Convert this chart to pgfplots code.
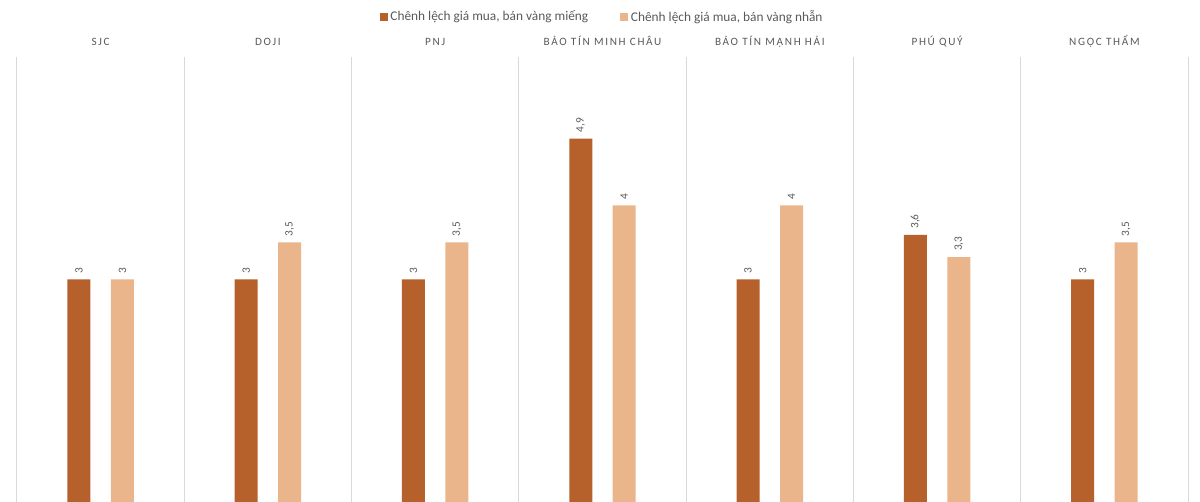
\documentclass[border=0pt]{standalone}
\usepackage{pgfplots}
\pgfplotsset{compat=1.18}
\usepackage{fontspec}
\setmainfont{Carlito}
\newfontfamily\spaced[LetterSpace=15]{Carlito}
\definecolor{c1}{HTML}{B6602B}
\definecolor{c2}{HTML}{EAB58A}
\definecolor{txt}{HTML}{595959}
\definecolor{sep}{HTML}{D9D9D9}
\begin{document}
\begin{tikzpicture}
\useasboundingbox (-12.75pt,0) rectangle (887.25pt,376.5pt);
\begin{axis}[
  at={(0,0)}, anchor=south west,
  scale only axis, width=878.25pt, height=333.75pt,
  xmin=-0.5, xmax=6.5, ymin=0, ymax=6,
  axis line style={draw=none},
  ytick=\empty,
  xtick={0,...,6},
  xticklabels={SJC,DOJI,PNJ,BẢO TÍN MINH CHÂU,BẢO TÍN MẠNH HẢI,PHÚ QUÝ,NGỌC THẨM},
  xticklabel pos=upper,
  major tick length=0pt, minor tick length=0pt,
  xticklabel style={font=\spaced\fontsize{8.4}{9}\selectfont, text=txt, anchor=base, yshift=8.5pt},
  minor xtick={-0.5,0.5,...,6.5},
  xminorgrids,
  minor grid style={sep, line width=0.75pt},
  ybar, bar width=17.25pt,
  nodes near coords,
  nodes near coords style={rotate=90, anchor=west, font=\fontsize{8.5}{9}\selectfont, text=txt, inner sep=1pt, inner xsep=4.5pt},
  /pgf/number format/.cd, use comma, assume math mode=true, fixed, precision=1,
  /pgfplots/.cd,
  legend columns=2,
  legend style={at={(0.5,1.09)}, anchor=center, draw=none, fill=none,
    font=\fontsize{10}{12}\selectfont, text=txt,
    /tikz/every even column/.append style={column sep=22pt}},
  legend image code/.code={\fill[#1] (0pt,-3pt) rectangle (6pt,3pt);},
]
\addplot[fill=c1, draw=none, bar shift=-16.3pt] coordinates {(0,3) (1,3) (2,3) (3,4.9) (4,3) (5,3.6) (6,3)};
\addplot[fill=c2, draw=none, bar shift=16.3pt] coordinates {(0,3) (1,3.5) (2,3.5) (3,4) (4,4) (5,3.3) (6,3.5)};
\legend{{Chênh lệch giá mua, bán vàng miếng}, {Chênh lệch giá mua, bán vàng nhẫn}}
\end{axis}
\end{tikzpicture}
\end{document}
